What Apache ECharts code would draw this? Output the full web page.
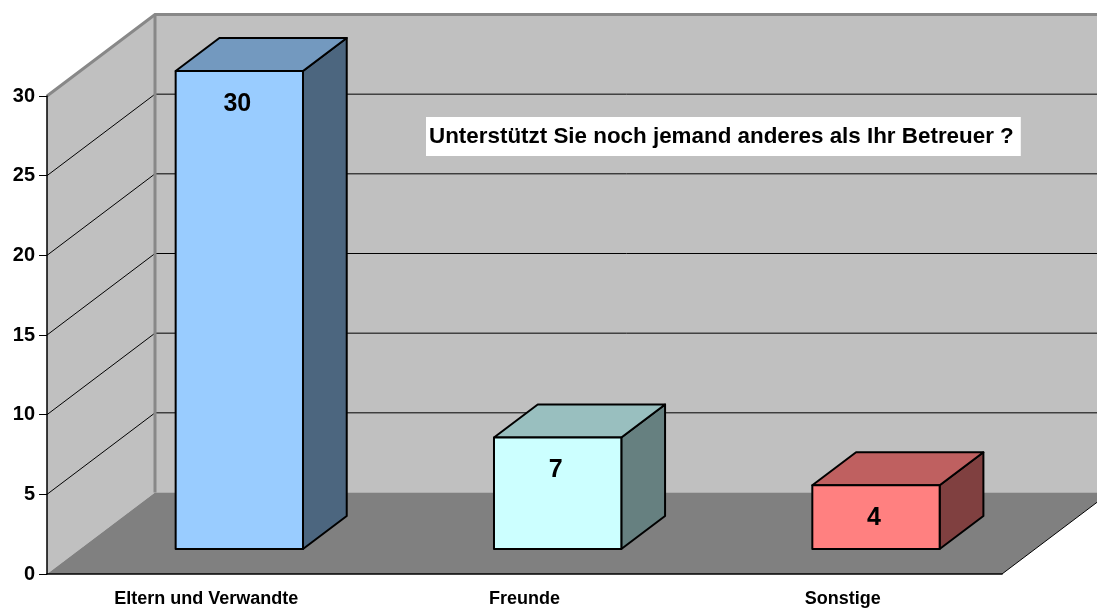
<!DOCTYPE html>
<html>
<head>
<meta charset="utf-8">
<script src="https://cdn.jsdelivr.net/npm/echarts@6/dist/echarts.min.js"></script>
<style>
  html, body { margin: 0; padding: 0; background: #fff; }
  #chart { width: 1097px; height: 608px; }
</style>
</head>
<body>
<div id="chart"></div>
<script>
const categories = ['Eltern und Verwandte', 'Freunde', 'Sonstige']
const values = [30, 7, 4]
const frontColors = ['#99ccff', '#ccffff', '#ff8080']
const topColors = ['#7399bf', '#99bfbf', '#bf6060']
const sideColors = ['#4c667f', '#668080', '#804040']
const yTicks = [0, 5, 10, 15, 20, 25, 30]

const FONT = "'Liberation Sans', Arial, sans-serif"
// offset of the back plane of the 3D box, in px
const DX = 108
const DY = -81.5
// bars sit between these depth fractions, width as fraction of the band
const BAR_Z0 = 0.307
const BAR_Z1 = 0.712
const BAR_W = 0.4

const chart = echarts.init(document.getElementById('chart'))

const renderWalls = (params, api) => {
  const cs = params.coordSys
  const x0 = cs.x
  const x1 = cs.x + cs.width
  const yb = api.coord([0, yTicks[0]])[1]
  const yt = api.coord([0, yTicks[yTicks.length - 1]])[1]
  const children = []

  children.push({
    type: 'polygon',
    shape: { points: [[x0, yb], [x0, yt], [x0 + DX, yt + DY], [x0 + DX, yb + DY]] },
    style: { fill: '#c0c0c0' }
  })
  children.push({
    type: 'polygon',
    shape: { points: [[x0 + DX, yt + DY], [x1 + DX, yt + DY], [x1 + DX, yb + DY], [x0 + DX, yb + DY]] },
    style: { fill: '#c0c0c0' }
  })
  children.push({
    type: 'polygon',
    shape: { points: [[x0, yb], [x1, yb], [x1 + DX, yb + DY], [x0 + DX, yb + DY]] },
    style: { fill: '#808080' }
  })

  yTicks.slice(1, -1).forEach(v => {
    const y = api.coord([0, v])[1]
    children.push({
      type: 'polyline',
      shape: { points: [[x0, y], [x0 + DX, y + DY], [x1 + DX, y + DY]] },
      style: { stroke: '#000', lineWidth: 1, fill: null }
    })
  })

  // wall edges
  children.push({
    type: 'polyline',
    shape: { points: [[x0, yt], [x0 + DX, yt + DY], [x1 + DX, yt + DY]] },
    style: { stroke: '#888', lineWidth: 3, fill: null }
  })
  children.push({
    type: 'line',
    shape: { x1: x0 + DX, y1: yt + DY, x2: x0 + DX, y2: yb + DY },
    style: { stroke: '#888', lineWidth: 3 }
  })
  children.push({
    type: 'line',
    shape: { x1: x1, y1: yb, x2: x1 + DX, y2: yb + DY },
    style: { stroke: '#000', lineWidth: 1 }
  })

  return { type: 'group', children }
}

const renderBar = (params, api) => {
  const i = api.value(0)
  const v = api.value(1)
  const base = api.coord([i, 0])
  const top = api.coord([i, v])
  const w = api.size([1, 0])[0] * BAR_W
  const L = base[0] - w / 2 + DX * BAR_Z0
  const R = L + w
  const B = base[1] + DY * BAR_Z0
  const T = top[1] + DY * BAR_Z0
  const ddx = DX * (BAR_Z1 - BAR_Z0)
  const ddy = DY * (BAR_Z1 - BAR_Z0)
  const edge = { stroke: '#000', lineWidth: 2, lineJoin: 'round' }

  return {
    type: 'group',
    children: [
      {
        type: 'polygon',
        shape: { points: [[R, B], [R, T], [R + ddx, T + ddy], [R + ddx, B + ddy]] },
        style: Object.assign({ fill: sideColors[i] }, edge)
      },
      {
        type: 'polygon',
        shape: { points: [[L, T], [R, T], [R + ddx, T + ddy], [L + ddx, T + ddy]] },
        style: Object.assign({ fill: topColors[i] }, edge)
      },
      {
        type: 'rect',
        shape: { x: L, y: T, width: w, height: B - T },
        style: Object.assign({ fill: frontColors[i] }, edge)
      },
      {
        type: 'text',
        style: {
          x: (L + R) / 2 - 2,
          y: T + 33,
          text: String(v),
          align: 'center',
          verticalAlign: 'middle',
          fill: '#000',
          font: 'bold 25px ' + FONT
        }
      }
    ]
  }
}

chart.setOption({
  animation: false,
  title: {
    text: 'Unterstützt Sie noch jemand anderes als Ihr Betreuer ?',
    left: 426,
    top: 117,
    backgroundColor: '#fff',
    padding: [7, 7, 6, 3],
    textStyle: { fontFamily: FONT, fontSize: 22.4, lineHeight: 26, fontWeight: 'bold', color: '#000' }
  },
  grid: {
    left: 47,
    right: 95,
    top: 96,
    bottom: 34,
    outerBoundsMode: 'none'
  },
  xAxis: {
    type: 'category',
    data: categories,
    z: 10,
    axisLine: { lineStyle: { color: '#000', width: 1.5 } },
    axisTick: { length: 8, lineStyle: { color: '#000' } },
    axisLabel: { color: '#000', fontFamily: FONT, fontSize: 18, fontWeight: 'bold', margin: 16 },
    splitLine: { show: false }
  },
  yAxis: {
    type: 'value',
    min: 0,
    max: 30,
    interval: 5,
    z: 10,
    axisLine: { show: true, lineStyle: { color: '#000', width: 1.5 } },
    axisTick: { show: true, length: 8, lineStyle: { color: '#000' } },
    axisLabel: { color: '#000', fontFamily: FONT, fontSize: 20, fontWeight: 'bold', margin: 12 },
    splitLine: { show: false }
  },
  series: [
    {
      type: 'custom',
      renderItem: renderWalls,
      data: [[0, 0]],
      z: 1,
      silent: true
    },
    {
      type: 'custom',
      renderItem: renderBar,
      data: values.map((v, i) => [i, v]),
      encode: { x: 0, y: 1 },
      z: 3
    }
  ]
})
</script>
</body>
</html>
